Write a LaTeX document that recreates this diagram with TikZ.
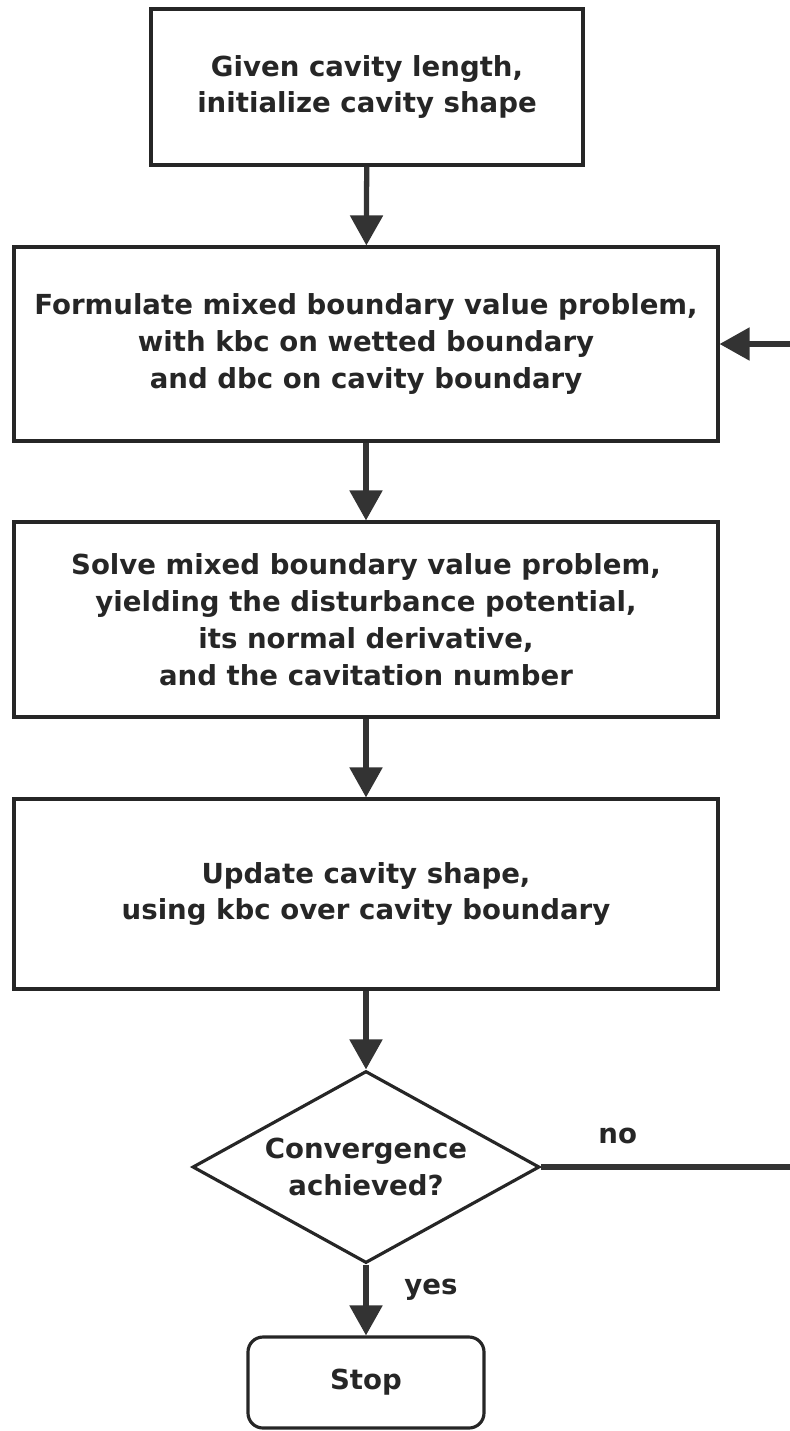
\documentclass[tikz,border=0pt]{standalone}
\usepackage{fontspec}
\setmainfont{DejaVu Sans}
\usetikzlibrary{shapes.geometric,arrows.meta}

\begin{document}
\begin{tikzpicture}[
  font=\bfseries\fontsize{15.7}{21}\selectfont,
  every node/.style={text=black!85},
  process/.style={rectangle, draw=black!85, line width=1.8pt, align=center, inner sep=0pt},
  decision/.style={diamond, draw=black!85, line width=1.8pt, align=center, aspect=1.8, inner sep=0pt,
    minimum width=6.94cm, minimum height=3.84cm},
  terminal/.style={rectangle, rounded corners=0.3cm, draw=black!85, line width=1.8pt,
    minimum width=4.72cm, minimum height=1.82cm},
  flow/.style={draw=black!80, line width=3pt, -{Triangle[length=0.6cm, width=0.64cm]}}
]
\useasboundingbox (0,0) rectangle (15.78,-28.62);

\node[process, minimum width=8.64cm, minimum height=3.12cm] (init) at (7.34,-1.74)
  {Given cavity length,\\initialize cavity shape};
\node[process, minimum width=14.08cm, minimum height=3.88cm] (formulate) at (7.32,-6.88)
  {Formulate mixed boundary value problem,\\with kbc on wetted boundary\\and dbc on cavity boundary};
\node[process, minimum width=14.08cm, minimum height=3.9cm] (solve) at (7.32,-12.39)
  {Solve mixed boundary value problem,\\yielding the disturbance potential,\\its normal derivative,\\and the cavitation number};
\node[process, minimum width=14.08cm, minimum height=3.8cm] (update) at (7.32,-17.88)
  {Update cavity shape,\\using kbc over cavity boundary};
\node[decision] (conv) at (7.32,-23.34) {Convergence\\achieved?};
\node[terminal] (stop) at (7.32,-27.65) {Stop};
\coordinate (back) at (16.3,-23.34);

\draw[flow] (init) -- (formulate);
\draw[flow] (formulate) -- (solve);
\draw[flow] (solve) -- (update);
\draw[flow] (update) -- (conv);
\draw[flow] (conv) -- node[right, xshift=0.6cm, yshift=0.2cm] (yeslbl) {yes} (stop);
\draw[flow] (conv.east) -- node[pos=0.28, above, yshift=0.3cm] (nolbl) {no} (back) |- (formulate.east);
\end{tikzpicture}
\end{document}
